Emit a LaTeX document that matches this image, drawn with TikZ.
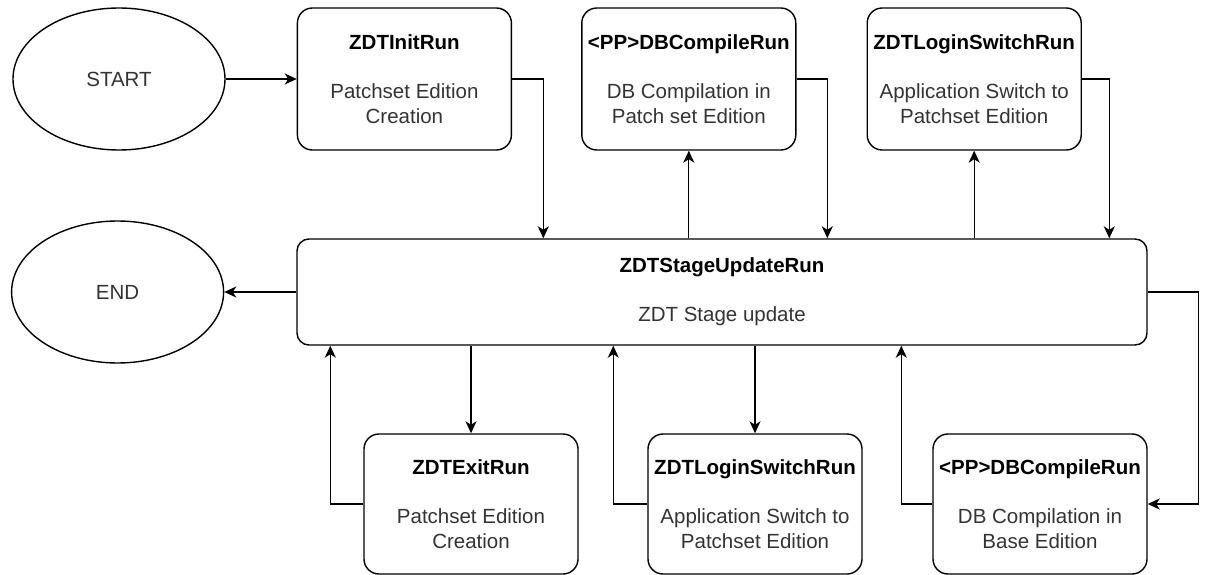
\documentclass[tikz,border=0pt]{standalone}
\usepackage{fontspec}
\setmainfont{Liberation Sans}
\usetikzlibrary{shapes.geometric, positioning, arrows.meta}

\newcommand{\runname}[1]{\textcolor{black}{\bfseries #1}}

\begin{document}
\begin{tikzpicture}[x=1pt, y=-1pt, node distance=70pt,
	every node/.style={font=\fontsize{20.5}{24.6}\selectfont, text=black!80},
	run/.style={draw, rounded corners=15pt, line width=1.4pt, minimum width=214pt, minimum height=142pt, align=center, inner sep=0pt},
	terminal/.style={draw, ellipse, line width=1.4pt, minimum width=212pt, minimum height=142pt, inner sep=0pt},
	flow/.style={-{Stealth[length=12pt, width=11pt, inset=3.5pt]}, line width=1.3pt}]
\useasboundingbox (0,0) rectangle (1205,575);

\node[terminal] (start) at (119,79) {START};
\node[run] (init) [right=71pt of start] {\runname{ZDTInitRun}\\[24.6pt]Patchset Edition\\Creation};
\node[run] (dbc) [right=69pt of init] {\runname{<PP>DBCompileRun}\\[24.6pt]DB Compilation in\\Patch set Edition};
\node[run] (login) [right=70pt of dbc] {\runname{ZDTLoginSwitchRun}\\[24.6pt]Application Switch to\\Patchset Edition};

\node[run, minimum width=850pt, minimum height=106pt, rounded corners=12pt] (stage) at (722,292) {\runname{ZDTStageUpdateRun}\\[24.6pt]ZDT Stage update};
\node[terminal] (end) [left=72pt of stage] {END};

\node[run, minimum height=140pt] (exit) at (471,504) {\runname{ZDTExitRun}\\[24.6pt]Patchset Edition\\Creation};
\node[run, minimum height=140pt] (login2) at (755,504) {\runname{ZDTLoginSwitchRun}\\[24.6pt]Application Switch to\\Patchset Edition};
\node[run, minimum height=140pt] (dbc2) at (1040,504) {\runname{<PP>DBCompileRun}\\[24.6pt]DB Compilation in\\Base Edition};

% top row
\draw[flow] (start) -- (init);
\draw[flow] (init.east) -| ([xshift=247pt]stage.north west);
\draw[flow] (stage.north -| dbc.south) -- (dbc.south);
\draw[flow] (dbc.east) -| ([xshift=531pt]stage.north west);
\draw[flow] (stage.north -| login.south) -- (login.south);
\draw[flow] (login.east) -| ([xshift=813pt]stage.north west);

\draw[flow] (stage.west) -- (end.east);

% bottom row
\draw[flow] (stage.east) -- ++(51pt,0) |- (dbc2.east);
\draw[flow] (stage.south -| exit.north) -- (exit.north);
\draw[flow] (exit.west) -| ([xshift=34pt]stage.south west);
\draw[flow] (stage.south -| login2.north) -- (login2.north);
\draw[flow] (login2.west) -| ([xshift=317pt]stage.south west);
\draw[flow] (dbc2.west) -| ([xshift=605pt]stage.south west);

\end{tikzpicture}
\end{document}
